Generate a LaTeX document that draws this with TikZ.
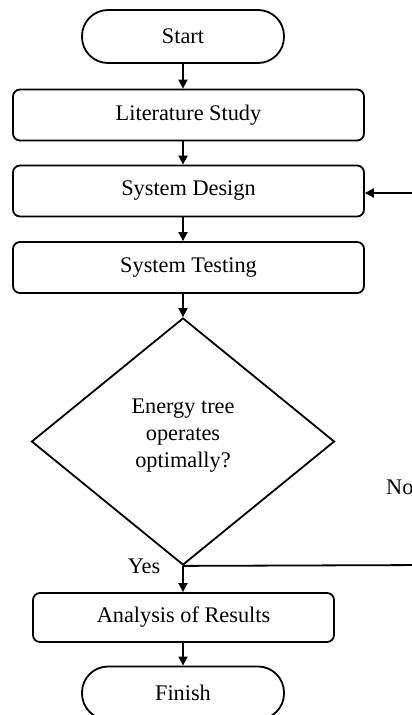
\documentclass[tikz,border=0pt]{standalone}
\usepackage{fontspec}
\setmainfont{Liberation Serif}
\usetikzlibrary{arrows.meta,shapes.geometric}
\begin{document}
\begin{tikzpicture}[x=1pt,y=-1pt,
  every node/.style={font=\fontsize{22.3}{27}\selectfont},
  line/.style={draw=black, line width=1.8pt},
  arr/.style={line, -{Triangle[length=9pt,width=9pt]}},
  proc/.style={line, rectangle, rounded corners=7pt, minimum width=351pt, minimum height=51pt, inner sep=0pt},
  term/.style={line, rectangle, rounded corners=26pt, minimum width=202pt, minimum height=53pt, inner sep=0pt},
  decision/.style={line, diamond, minimum width=303pt, minimum height=247pt, inner sep=0pt},
  lbl/.style={inner sep=0pt}]
\useasboundingbox (0,0) rectangle (412,715);
\clip (0,0) rectangle (412,715);
\node[term] (start) at (183,36.5) {Start};
\node[proc] (lit) at (188.5,115) {Literature Study};
\node[proc] (sd) at (188.5,191) {System Design};
\node[proc] (st) at (188.5,267.5) {System Testing};
\node[decision] (dec) at (183,441.5) {};
\node[lbl, align=center] (dect) at (183,436) {Energy tree\\operates\\optimally?};
\node[proc, minimum width=301pt, minimum height=49pt] (ana) at (183.5,617.5) {Analysis of Results};
\node[term] (fin) at (183,693) {Finish};
\node[lbl] (yes) at (144,566) {Yes};
\node[lbl, anchor=west] (no) at (386,487) {No};
\coordinate (c1) at (430,565);
\coordinate (c2) at (430,193);
\draw[arr] (start.south) -- (lit.north -| start);
\draw[arr] (lit.south -| start) -- (sd.north -| start);
\draw[arr] (sd.south -| start) -- (st.north -| start);
\draw[arr] (st.south -| start) -- (dec.north);
\draw[arr] (dec.south) -- (ana.north -| dec);
\draw[arr] (ana.south -| dec) -- (fin.north);
\draw[line] (dec.south) -- (c1) -- (c2);
\draw[arr] (c2) -- (sd.east |- c2);
\end{tikzpicture}
\end{document}
